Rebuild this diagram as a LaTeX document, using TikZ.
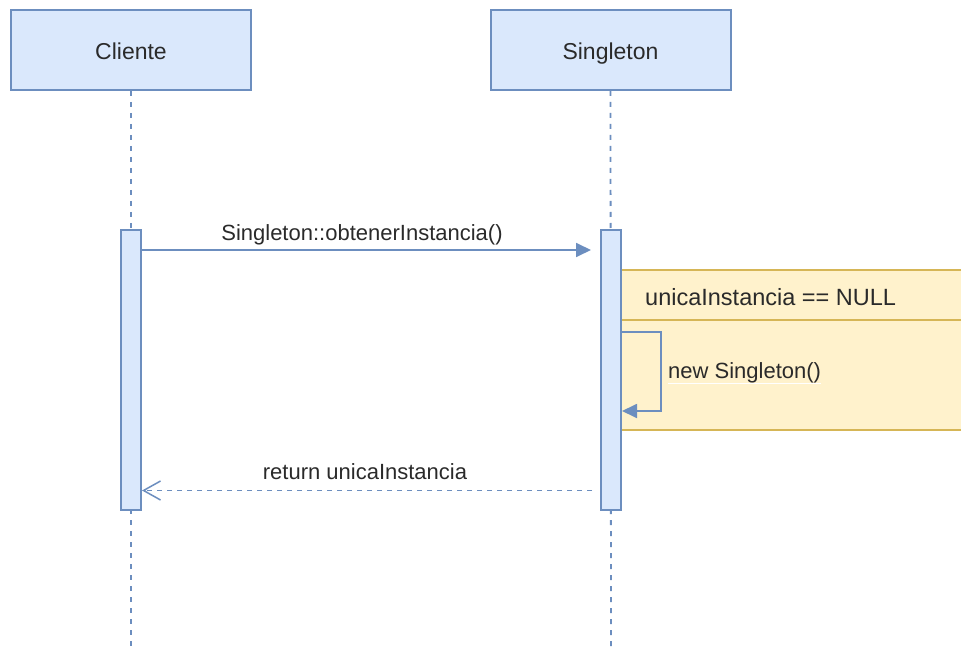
\documentclass[tikz,border=0pt]{standalone}
\usepackage{fontspec}
\setmainfont{Liberation Sans}
\usetikzlibrary{arrows.meta}
\definecolor{bfill}{HTML}{DAE8FC}
\definecolor{bdraw}{HTML}{6C8EBF}
\definecolor{yfill}{HTML}{FFF2CC}
\definecolor{ydraw}{HTML}{D6B656}
\definecolor{txt}{HTML}{2A2A2A}
\tikzset{
  headbox/.style={draw=bdraw, fill=bfill, line width=2pt, minimum width=240pt, minimum height=80pt, inner sep=0pt},
  actbox/.style={draw=bdraw, fill=bfill, line width=2pt, minimum width=20pt, minimum height=280pt, inner sep=0pt},
  lifeline/.style={draw=bdraw, line width=1.8pt, dash pattern=on 5pt off 6pt},
  msg/.style={draw=bdraw, line width=1.8pt, -{Triangle[length=15pt,width=14pt]}},
  retmsg/.style={draw=bdraw, line width=1.5pt, dash pattern=on 5pt off 5pt, -{Straight Barb[length=17pt,width=19pt,line width=1.5pt]}},
  lbl/.style={text=txt, inner sep=0pt, font=\fontsize{22}{26}\selectfont},
  headlbl/.style={text=txt, inner sep=0pt, font=\fontsize{23}{27}\selectfont},
}
\begin{document}
\begin{tikzpicture}[x=1pt,y=-1pt]
\useasboundingbox (0,0) rectangle (961,647);
% lifelines
\coordinate (c-end) at (131,647);
\coordinate (s-end) at (611,647);
\node[headbox] (cli) at (131,50) {};
\node[headbox] (sing) at (610.5,50) {};
\draw[lifeline] (cli.south) -- (c-end);
\draw[lifeline] (sing.south) -- (s-end);
% alt frame
\draw[draw=ydraw, fill=yfill, line width=1.6pt] (621,270) rectangle (975,430);
\draw[draw=ydraw, line width=1.6pt] (621,320) -- (975,320);
% activations
\node[actbox] (ca) at (131,370) {};
\node[actbox] (sa) at (611,370) {};
% labels in heads
\node[headlbl, anchor=base] (t-cli) at (131,59.5) {Cliente};
\node[headlbl, anchor=base] (t-sing) at (610.5,59.5) {Singleton};
% call message
\coordinate (m1end) at (591,250);
\draw[msg] (ca.east |- 0,250) -- (m1end);
\node[lbl, anchor=base] (t-m1) at (362,240.5) {Singleton::obtenerInstancia()};
% condition
\node[lbl, anchor=base west, font=\fontsize{23.5}{28}\selectfont] (t-cond) at (645,305) {unicaInstancia == NULL};
% self call
\coordinate (sc1) at (661,332);
\coordinate (sc2) at (661,411);
\draw[msg] (sa.east |- 0,332) -- (sc1) -- (sc2) -- (sa.east |- 0,411);
\draw[white, line width=1.5pt] (668,383.5) -- (821,383.5);
\node[lbl, anchor=base west] (t-new) at (668,378) {new Singleton()};
% return message
\coordinate (rstart) at (592,490.5);
\draw[retmsg] (rstart) -- (ca.east |- 0,490.5);
\node[lbl, anchor=base] (t-ret) at (365,479.5) {return unicaInstancia};
\end{tikzpicture}
\end{document}
